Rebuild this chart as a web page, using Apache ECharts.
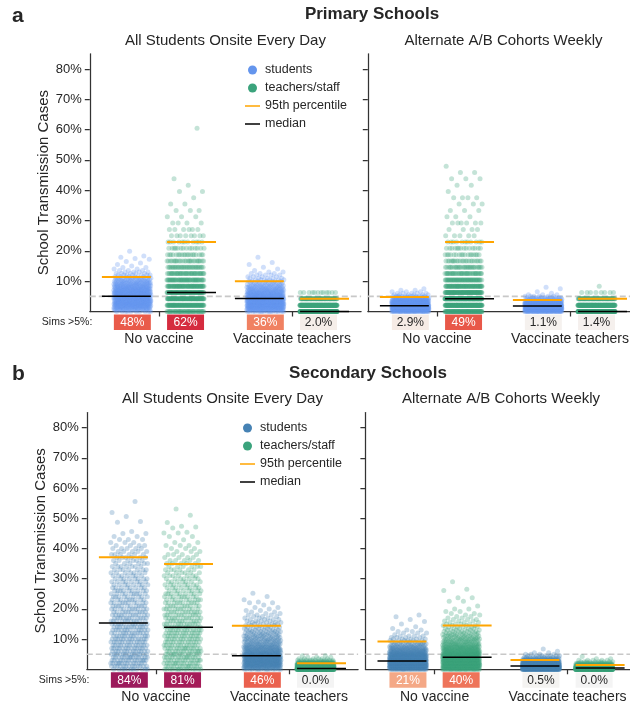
<!DOCTYPE html>
<html>
<head>
<meta charset="utf-8">
<title>School transmission simulations</title>
<script src="https://cdn.jsdelivr.net/npm/echarts@6/dist/echarts.min.js"></script>
<style>
  html, body { margin: 0; padding: 0; background: #ffffff; }
  #chart { width: 630px; height: 706px; }
</style>
</head>
<body>
<div id="chart"></div>
<script>
// ---------------------------------------------------------------------------
// Data: school transmission cases (% of school population) across simulations.
// Each distribution is a list of [cases %, number of simulations].
// ---------------------------------------------------------------------------
const categories = ['No vaccine', 'Vaccinate teachers'];
const yTicks = [10, 20, 30, 40, 50, 60, 70, 80];
const schoolTitles = ['Primary Schools', 'Secondary Schools'];
const panelLetters = ['a', 'b'];
const scheduleTitles = ['All Students Onsite Every Day', 'Alternate A/B Cohorts Weekly'];

// Primary schools, all students onsite every day
const primOnsiteNoVacStudents = [[0,10],[0.5,18],[1,24],[1.5,28],[2,30],[2.5,32],[3,32],[3.5,32],[4,32],[4.5,32],[5,32],[5.5,31],[6,30],[6.5,29],[7,27],[7.5,25],[8,23],[8.5,21],[9,19],[9.5,17],[10,15],[10.5,13],[11,11],[11.5,8],[12,7],[12.5,5],[13,4],[13.5,3],[14,2],[14.5,2],[15,1],[15.5,1],[16,1],[16.5,1],[17.2,1],[17.5,1],[17.9,1],[18.3,1],[19.9,1]];
const primOnsiteNoVacTeachers = [[0,45],[2.08,90],[4.17,93],[6.25,80],[8.33,66],[10.42,52],[12.5,42],[14.58,33],[16.67,25],[18.75,19],[20.83,14],[22.92,11],[25,8],[27.08,6],[29.17,4],[31.25,3],[33.33,3],[35.42,2],[37.5,1],[39.58,2],[41.67,1],[43.75,1],[60.42,1]];
const primOnsiteVacStudents = [[0,16],[0.5,28],[1,36],[1.5,40],[2,42],[2.5,42],[3,42],[3.5,40],[4,38],[4.5,34],[5,30],[5.5,28],[6,25],[6.5,22],[7,20],[7.5,17],[8,15],[8.5,13],[9,11],[9.5,9],[10,7],[10.5,6],[11,5],[11.5,4],[12,4],[12.5,3],[13,2],[13.5,1],[14,1],[14.6,1],[15.5,1],[16.2,1],[17.9,1]];
const primOnsiteVacTeachers = [[0,310],[2.08,200],[4.17,78],[6.25,12]];
const primOnsiteMedian = [5.0, 6.25, 4.3, 0];
const primOnsiteP95 = [11.4, 22.92, 10.0, 4.17];
const primOnsiteOver5 = [48, 62, 36, 2.0];

// Primary schools, alternate A/B cohorts weekly
const primCohortNoVacStudents = [[0,40],[0.5,70],[1,80],[1.5,80],[2,75],[2.5,65],[3,55],[3.5,45],[4,35],[4.5,20],[5,12],[5.5,6],[6,5],[6.5,3],[7,2],[7.5,1]];
const primCohortNoVacTeachers = [[0,93],[2.08,150],[4.17,170],[6.25,95],[8.33,70],[10.42,54],[12.5,40],[14.58,30],[16.67,22],[18.75,17],[20.83,14],[22.92,11],[25,5],[27.08,4],[29.17,6],[31.25,3],[33.33,3],[35.42,3],[37.5,4],[39.58,1],[41.67,2],[43.75,3],[45.83,2],[47.92,1]];
const primCohortVacStudents = [[0,45],[0.5,80],[1,95],[1.5,90],[2,80],[2.5,70],[3,55],[3.5,38],[4,22],[4.5,12],[5,6],[5.5,3],[6,1],[6.5,1],[7.5,1],[8,1]];
const primCohortVacTeachers = [[0,320],[2.08,190],[4.17,81],[6.25,8],[8.33,1]];
const primCohortMedian = [1.9, 4.17, 1.8, 0];
const primCohortP95 = [4.8, 22.92, 3.8, 4.17];
const primCohortOver5 = [2.9, 49, 1.1, 1.4];

// Secondary schools, all students onsite every day
const secOnsiteNoVacStudents = [[0,11],[1,13],[2,14],[3,14],[4,14],[5,13],[6,13],[7,13],[8,13],[9,13],[10,13],[11,12],[12,12],[13,12],[14,12],[15,12],[16,11],[17,11],[18,11],[19,10],[20,10],[21,10],[22,10],[23,9],[24,9],[25,9],[26,9],[27,8],[28,8],[29,8],[30,8],[31,7],[32,7],[33,7],[34,7],[35,6],[36,6],[37,6],[38,6],[39,5],[40,5],[41,4],[42,3],[43,3],[44,2],[45,2],[45.6,1],[48.7,1],[48.9,1],[50.6,1],[51.9,1],[55.6,1]];
const secOnsiteNoVacTeachers = [[0,15],[1,14],[2,14],[3,14],[4,14],[5,14],[6,14],[7,14],[8,13],[9,13],[10,13],[11,13],[12,13],[13,13],[14,12],[15,12],[16,11],[17,11],[18,11],[19,11],[20,10],[21,10],[22,10],[23,9],[24,9],[25,9],[26,8],[27,8],[28,8],[29,7],[30,7],[31,7],[32,6],[33,6],[34,6],[35,5],[36,5],[37,4],[38,4],[39,3],[40,3],[41,3],[42,2],[42.9,1],[44,2],[45.1,2],[45.4,1],[46.8,1],[47.1,1],[47.4,1],[48.6,1],[51,1],[53.1,1]];
const secOnsiteVacStudents = [[0,16],[0.5,26],[1,30],[1.5,32],[2,32],[2.5,32],[3,32],[3.5,31],[4,30],[4.5,29],[5,28],[5.5,23],[6,21],[6.5,20],[7,18],[7.5,17],[8,15],[8.5,14],[9,13],[9.5,12],[10,11],[10.5,10],[11,10],[11.5,9],[12,8],[12.5,8],[13,7],[13.5,6],[14,5],[14.5,5],[15,5],[15.5,5],[16,4],[16.5,4],[17,3],[17.5,3],[18,3],[18.5,2],[19,2],[19.5,2],[20,1],[20.5,2],[21.3,1],[22,2],[22.3,1],[23,1],[24.1,1],[25.2,1]];
const secOnsiteVacTeachers = [[0,300],[0.5,150],[1,140],[1.5,90],[2,60],[2.5,25],[3,12],[3.5,6],[4,3],[4.5,2]];
const secOnsiteMedian = [15.3, 13.9, 4.5, 0.3];
const secOnsiteP95 = [37.1, 34.9, 14.4, 2.0];
const secOnsiteOver5 = [84, 81, 46, 0.0];

// Secondary schools, alternate A/B cohorts weekly
const secCohortNoVacStudents = [[0,35],[0.5,62],[1,70],[1.5,72],[2,70],[2.5,66],[3,62],[3.5,56],[4,50],[4.5,45],[5,40],[5.5,30],[6,25],[6.5,21],[7,18],[7.5,15],[8,12],[8.5,10],[9,8],[9.5,6],[10,5],[10.5,4],[11,4],[11.4,1],[12,3],[12.5,2],[13,2],[13.5,1],[14.1,1],[15,1],[15.8,1],[16.5,1],[17.4,1],[18,1]];
const secCohortNoVacTeachers = [[0,40],[0.5,50],[1,52],[1.5,52],[2,50],[2.5,48],[3,46],[3.5,44],[4,42],[4.5,40],[5,38],[5.5,30],[6,28],[6.5,26],[7,24],[7.5,21],[8,19],[8.5,17],[9,15],[9.5,13],[10,12],[10.5,11],[11,10],[11.5,9],[12,8],[12.5,7],[13,6],[13.5,5],[14,5],[14.5,4],[15,4],[15.5,3],[16,3],[16.5,3],[17,2],[17.5,2],[18,2],[18.5,2],[19.1,2],[20,2],[21,1],[22.5,2],[23.7,2],[26.1,1],[26.5,1],[29,1]];
const secCohortVacStudents = [[0,130],[0.5,160],[1,150],[1.5,120],[2,90],[2.5,60],[3,40],[3.5,22],[4,12],[4.5,7],[5,4],[5.5,2],[6,1],[6.7,1]];
const secCohortVacTeachers = [[0,400],[0.5,200],[1,110],[1.5,50],[2,22],[2.5,10],[3,5],[3.5,2],[4.2,1]];
const secCohortMedian = [2.75, 4.0, 1.1, 0.4];
const secCohortP95 = [9.2, 14.5, 3.1, 1.4];
const secCohortOver5 = [21, 40, 0.5, 0.0];

// ---------------------------------------------------------------------------
// Styling and layout
// ---------------------------------------------------------------------------
const FONT = '"Liberation Sans", Arial, Helvetica, sans-serif';
const TEXT = '#262626';
const AXIS = '#333333';
const TEACHER_COLOR = '#3ba37c';
const P95_COLOR = '#ffa500';
const MEDIAN_COLOR = '#000000';

const HUE_OFFSET = 0.2;      // dodge of students / teachers within a category
const JITTER = 0.14;         // half-width of the strip jitter
const LINE_OFFSET = 0.245;   // centre of the summary lines
const LINE_HALF = 0.184;     // half-length of the summary lines
const BOX_WIDTH = 0.278;     // width of the ">5%" boxes in axis units

const groupCenters = [-HUE_OFFSET, HUE_OFFSET, 1 - HUE_OFFSET, 1 + HUE_OFFSET];
const lineCenters = [-LINE_OFFSET, LINE_OFFSET, 1 - LINE_OFFSET, 1 + LINE_OFFSET];

const panels = [
  { groups: [primOnsiteNoVacStudents, primOnsiteNoVacTeachers, primOnsiteVacStudents, primOnsiteVacTeachers],
    median: primOnsiteMedian, p95: primOnsiteP95, over5: primOnsiteOver5, studentColor: '#6495ED',
    box: { left: 89.8, top: 53.8, width: 271.3, height: 257.7 } },
  { groups: [primCohortNoVacStudents, primCohortNoVacTeachers, primCohortVacStudents, primCohortVacTeachers],
    median: primCohortMedian, p95: primCohortP95, over5: primCohortOver5, studentColor: '#6495ED',
    box: { left: 367.8, top: 53.8, width: 271.3, height: 257.7 } },
  { groups: [secOnsiteNoVacStudents, secOnsiteNoVacTeachers, secOnsiteVacStudents, secOnsiteVacTeachers],
    median: secOnsiteMedian, p95: secOnsiteP95, over5: secOnsiteOver5, studentColor: '#4682B4',
    box: { left: 86.8, top: 412.6, width: 271.3, height: 256.7 } },
  { groups: [secCohortNoVacStudents, secCohortNoVacTeachers, secCohortVacStudents, secCohortVacTeachers],
    median: secCohortMedian, p95: secCohortP95, over5: secCohortOver5, studentColor: '#4682B4',
    box: { left: 365.4, top: 412.6, width: 271.3, height: 256.7 } }
];

// Colour scale for the share of simulations above 5%
const shareStops = [[0, '#f4f4f4'], [3, '#f6ebe4'], [21, '#f4a886'], [36, '#f08162'],
                    [48, '#e95b4a'], [62, '#d52c3f'], [84, '#9c1a5c'], [100, '#5a1b56']];
function shareColor(v) {
  for (let i = 1; i < shareStops.length; i++) {
    const [v0, c0] = shareStops[i - 1];
    const [v1, c1] = shareStops[i];
    if (v <= v1) return echarts.color.lerp((v - v0) / (v1 - v0), [c0, c1]);
  }
  return shareStops[shareStops.length - 1][1];
}
function shareText(v) {
  return v >= 10 ? Math.round(v) + '%' : v.toFixed(1) + '%';
}

// Strip-plot points: each simulation becomes one dot, spread across the strip
// width with a golden-ratio sequence so the layout is stable between renders.
function stripPoints(dist, center) {
  const pts = [];
  let i = 0;
  dist.forEach(([value, count]) => {
    for (let k = 0; k < count; k++) {
      const u = (i * 0.6180339887 + 0.37) % 1;
      pts.push([center + (u - 0.5) * 2 * JITTER, value]);
      i++;
    }
  });
  return pts;
}

function summaryLine(name, idx, values, color, width, z) {
  return {
    type: 'custom', name, xAxisIndex: idx, yAxisIndex: idx, z, silent: true,
    itemStyle: { color },
    data: lineCenters.map((c, k) => [c, values[k]]),
    renderItem: (params, api) => {
      const a = api.coord([api.value(0) - LINE_HALF, api.value(1)]);
      const b = api.coord([api.value(0) + LINE_HALF, api.value(1)]);
      return { type: 'line', shape: { x1: a[0], y1: a[1], x2: b[0], y2: b[1] },
               style: { stroke: color, lineWidth: width } };
    }
  };
}

const series = [];
panels.forEach((p, idx) => {
  // 5% threshold line
  series.push({
    type: 'custom', name: 'threshold', xAxisIndex: idx, yAxisIndex: idx, z: 1, silent: true,
    data: [[0, 5]],
    renderItem: (params, api) => {
      const cs = params.coordSys;
      const y = api.coord([0, api.value(1)])[1];
      return { type: 'line', shape: { x1: cs.x, y1: y, x2: cs.x + cs.width, y2: y },
               style: { stroke: '#c8c8c8', lineWidth: 1.6, lineDash: [6, 3] } };
    }
  });
  // simulation points
  p.groups.forEach((dist, g) => {
    const isStudent = g % 2 === 0;
    series.push({
      type: 'scatter', name: isStudent ? 'students' : 'teachers/staff',
      xAxisIndex: idx, yAxisIndex: idx, z: 2, silent: true, progressive: 0,
      symbol: 'circle', symbolSize: 5,
      itemStyle: { color: isStudent ? p.studentColor : TEACHER_COLOR, opacity: 0.3 },
      data: stripPoints(dist, groupCenters[g])
    });
  });
  series.push(summaryLine('95th percentile', idx, p.p95, P95_COLOR, 2, 4));
  series.push(summaryLine('median', idx, p.median, MEDIAN_COLOR, 1.5, 5));
  // share of simulations above 5%
  series.push({
    type: 'custom', name: 'share', xAxisIndex: idx, yAxisIndex: idx, z: 6, silent: true, clip: false,
    encode: { x: 0, y: 1 },
    data: groupCenters.map((c, k) => [c, 0, p.over5[k]]),
    renderItem: (params, api) => {
      const v = api.value(2);
      const base = api.coord([api.value(0), 0]);
      const w = api.size([BOX_WIDTH, 0])[0];
      return {
        type: 'group',
        children: [
          { type: 'rect', shape: { x: base[0] - w / 2, y: base[1] + 3, width: w, height: 15.5 },
            style: { fill: shareColor(v) } },
          { type: 'text',
            style: { text: shareText(v), x: base[0], y: base[1] + 11, textAlign: 'center',
                     textVerticalAlign: 'middle', fill: v >= 15 ? '#ffffff' : TEXT,
                     fontSize: 12, fontFamily: FONT } }
        ]
      };
    }
  });
});

function legendItems(studentColor) {
  const bar = 'path://M0,0H20V2H0Z';
  return [
    { name: 'students', icon: 'circle', itemStyle: { color: studentColor, opacity: 1 } },
    { name: 'teachers/staff', icon: 'circle', itemStyle: { color: TEACHER_COLOR, opacity: 1 } },
    { name: '95th percentile', icon: bar, itemStyle: { color: P95_COLOR, opacity: 1 } },
    { name: 'median', icon: bar, itemStyle: { color: MEDIAN_COLOR, opacity: 1 } }
  ];
}
const legendBase = {
  orient: 'vertical', itemWidth: 15, itemHeight: 9, itemGap: 4, selectedMode: false,
  padding: 0, textStyle: { fontSize: 12.5, color: TEXT, lineHeight: 14, fontFamily: FONT }
};

const graphic = [];
function addText(text, x, y, size, weight, align) {
  graphic.push({
    type: 'text', x, y, silent: true,
    style: { text, fill: TEXT, fontSize: size, fontWeight: weight || 'normal', fontFamily: FONT,
             textAlign: align || 'center', textVerticalAlign: 'middle' }
  });
}
[0, 1].forEach(row => {
  const b0 = panels[row * 2].box;
  const top = b0.top;
  const baseY = top + b0.height;
  addText(panelLetters[row], 12, top - 38, 21, 'bold', 'left');
  addText(schoolTitles[row], row === 0 ? 372 : 368, top - 39.3, 17, 'bold');
  [0, 1].forEach(col => {
    const b = panels[row * 2 + col].box;
    addText(scheduleTitles[col], b.left + b.width / 2, top - 13.3, 15);
  });
  addText('Sims >5%:', b0.left + 2.5, baseY + 11, 10.5, 'normal', 'right');
});

const option = {
  animation: false,
  textStyle: { fontFamily: FONT },
  grid: panels.map(p => Object.assign({ outerBoundsMode: 'none', containLabel: false }, p.box)),
  xAxis: panels.map((p, i) => ({
    type: 'value', gridIndex: i, min: -0.52, max: 1.52,
    axisLine: { show: true, onZero: false, lineStyle: { color: AXIS, width: 1.25 } },
    axisTick: { show: true, customValues: [0, 1], length: 5, lineStyle: { color: AXIS, width: 1.25 } },
    axisLabel: { show: true, customValues: [0, 1], formatter: v => categories[Math.round(v)],
                 fontSize: 14, color: TEXT, margin: 21, fontFamily: FONT },
    splitLine: { show: false }
  })),
  yAxis: panels.map((p, i) => ({
    type: 'value', gridIndex: i, min: 0, max: 85,
    axisLine: { show: true, onZero: false, lineStyle: { color: AXIS, width: 1.25 } },
    axisTick: { show: true, customValues: yTicks, length: 5, lineStyle: { color: AXIS, width: 1.25 } },
    axisLabel: { show: i % 2 === 0, customValues: yTicks, formatter: '{value}%',
                 fontSize: 13, color: TEXT, margin: 8, fontFamily: FONT },
    splitLine: { show: false },
    name: i % 2 === 0 ? 'School Transmission Cases' : '',
    nameLocation: 'middle', nameGap: 38,
    nameTextStyle: { fontSize: 15, color: TEXT, fontFamily: FONT }
  })),
  legend: [
    Object.assign({ left: 245, top: 63, data: legendItems('#6495ED') }, legendBase),
    Object.assign({ left: 240, top: 421, data: legendItems('#4682B4') }, legendBase)
  ],
  graphic,
  series
};

const chart = echarts.init(document.getElementById('chart'), null, { renderer: 'canvas' });
chart.setOption(option);
</script>
</body>
</html>
